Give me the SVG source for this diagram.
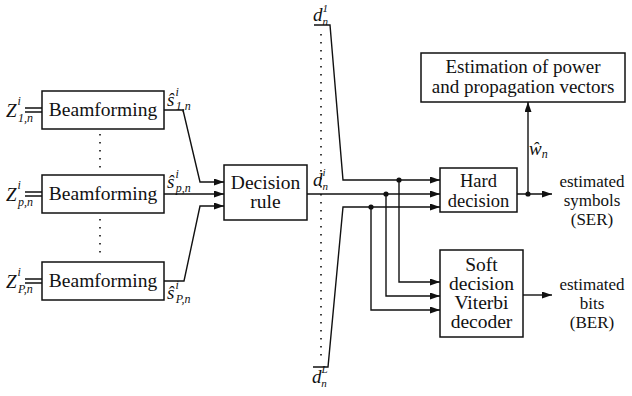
<svg xmlns="http://www.w3.org/2000/svg" width="632" height="396" viewBox="0 0 632 396">
<defs>
<marker id="ah" markerUnits="userSpaceOnUse" markerWidth="11" markerHeight="8" refX="10" refY="3.5" orient="auto">
<path d="M0,0 L10,3.5 L0,7 z" fill="#111"/>
</marker>
<style>
.box{fill:#fff;stroke:#111;stroke-width:1.5}
.t{font-family:"Liberation Serif","Times New Roman",serif;font-size:19.5px;fill:#111;text-anchor:middle}
.e{font-size:19px}
.h{font-size:18.5px}
.r{font-family:"Liberation Serif","Times New Roman",serif;font-size:17px;fill:#111;text-anchor:middle}
.m{font-family:"Liberation Serif","Times New Roman",serif;font-style:italic;font-size:19px;fill:#111}
.s{font-size:12px}
.s2{font-size:11px}
.w{fill:none;stroke:#111;stroke-width:1.4}
.a{marker-end:url(#ah)}
.dot{fill:none;stroke:#111;stroke-width:1.6;stroke-dasharray:1.6 6.4}
.j{fill:#111}
</style>
</defs>

<g id="bf1">
<rect class="box" x="42" y="91" width="122" height="38"/>
<text class="t" x="103" y="116">Beamforming</text>
<text class="m" x="6" y="117">Z<tspan class="s" dx="1" dy="-12">i</tspan><tspan class="s" dx="-3" dy="17">1,n</tspan></text>
<path class="w" d="M25,108 H42 M25,112 H42"/>
<text class="m" x="167" y="106">ŝ<tspan class="s" dx="1" dy="-10">i</tspan><tspan class="s" dx="-3" dy="14">1,n</tspan></text>
</g>

<g id="bf2">
<rect class="box" x="42" y="175" width="122" height="38"/>
<text class="t" x="103" y="200">Beamforming</text>
<text class="m" x="6" y="201">Z<tspan class="s" dx="1" dy="-12">i</tspan><tspan class="s" dx="-3" dy="17">p,n</tspan></text>
<path class="w" d="M25,192 H42 M25,196 H42"/>
<text class="m" x="167" y="188">ŝ<tspan class="s" dx="1" dy="-10">i</tspan><tspan class="s" dx="-3" dy="14">p,n</tspan></text>
</g>

<g id="bf3">
<rect class="box" x="42" y="262" width="122" height="38"/>
<text class="t" x="103" y="287">Beamforming</text>
<text class="m" x="6" y="288">Z<tspan class="s" dx="1" dy="-12">i</tspan><tspan class="s" dx="-3" dy="17">P,n</tspan></text>
<path class="w" d="M25,279 H42 M25,283 H42"/>
<text class="m" x="167" y="299">ŝ<tspan class="s" dx="1" dy="-10">i</tspan><tspan class="s" dx="-3" dy="14">P,n</tspan></text>
</g>

<g id="decision">
<rect class="box" x="224" y="165" width="83" height="55"/>
<text class="t"><tspan x="265.5" y="189">Decision</tspan><tspan x="265.5" y="208">rule</tspan></text>
</g>

<g id="estimation">
<rect class="box" x="421" y="53" width="204" height="49"/>
<text class="t e"><tspan x="523" y="73">Estimation of power</tspan><tspan x="523" y="93">and propagation vectors</tspan></text>
</g>

<g id="hard">
<rect class="box" x="440" y="168" width="77" height="44"/>
<text class="t h"><tspan x="478.5" y="187">Hard</tspan><tspan x="478.5" y="206.5">decision</tspan></text>
</g>

<g id="soft">
<rect class="box" x="440" y="250" width="83" height="87"/>
<text class="t"><tspan x="481.5" y="271">Soft</tspan><tspan x="481.5" y="290">decision</tspan><tspan x="481.5" y="309">Viterbi</tspan><tspan x="481.5" y="328">decoder</tspan></text>
</g>

<g id="labels">
<text class="m" x="313" y="21">d<tspan class="s2" dx="0" dy="-9.5">1</tspan><tspan class="s2" dx="-5.5" dy="13">n</tspan></text>
<text class="m" x="313" y="186">d<tspan class="s2" dx="0" dy="-10">i</tspan><tspan class="s2" dx="-3" dy="13.5">n</tspan></text>
<text class="m" x="312" y="383">d<tspan class="s2" dx="0" dy="-10">L</tspan><tspan class="s2" dx="-6.5" dy="13.5">n</tspan></text>
<text class="m" x="529" y="155">ŵ<tspan class="s" dx="0" dy="3">n</tspan></text>
<text class="r"><tspan x="592" y="187">estimated</tspan><tspan x="592" y="206">symbols</tspan><tspan x="592" y="225">(SER)</tspan></text>
<text class="r"><tspan x="592" y="290">estimated</tspan><tspan x="592" y="309">bits</tspan><tspan x="592" y="328">(BER)</tspan></text>
</g>

<g id="connectors">
<path class="dot" d="M100,134 V170 M100,219 V258 M321,34 V362"/>
<path class="w a" d="M164,110 H183 L200,182 H224"/>
<path class="w a" d="M164,194 H224"/>
<path class="w a" d="M164,281 H184 L200,206 H224"/>
<path class="w a" d="M307,194 H440"/>
<path class="w a" d="M314,25 H330 L343,180 H440"/>
<path class="w a" d="M313,367 H328 L343,207 H440"/>
<path class="w a" d="M399,180 V282 H440"/>
<path class="w a" d="M386,194 V296 H440"/>
<path class="w a" d="M371,207 V310 H440"/>
<path class="w a" d="M517,194 H552"/>
<path class="w a" d="M528,194 V102"/>
<path class="w a" d="M523,295 H552"/>
<circle class="j" cx="399" cy="180" r="2.6"/>
<circle class="j" cx="386" cy="194" r="2.6"/>
<circle class="j" cx="371" cy="207" r="2.6"/>
<circle class="j" cx="528" cy="194" r="2.6"/>
</g>
</svg>
